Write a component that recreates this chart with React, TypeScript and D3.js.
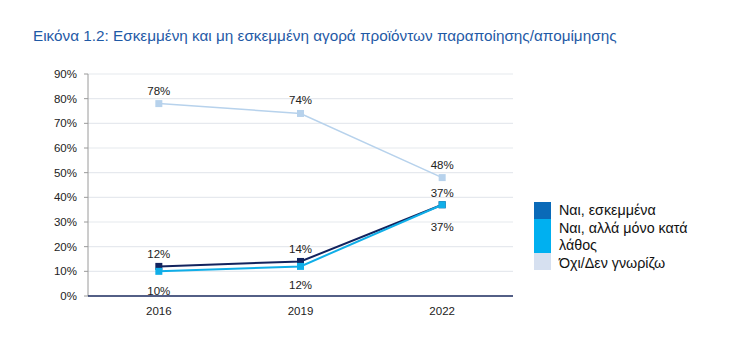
import React from "react";
import * as d3 from "d3";

const years = ["2016", "2019", "2022"];
const intentional = [12, 14, 37];
const accidental = [10, 12, 37];
const noDontKnow = [78, 74, 48];
const yTicks = [0, 10, 20, 30, 40, 50, 60, 70, 80, 90];
const seriesNames = ["Ναι, εσκεμμένα", "Ναι, αλλά μόνο κατά λάθος", "Όχι/Δεν γνωρίζω"];
const title = "Εικόνα 1.2: Εσκεμμένη και μη εσκεμμένη αγορά προϊόντων παραποίησης/απομίμησης";

export default function App() {
  const W = 743, H = 361;
  const left = 88, right = 513, top = 74, bottom = 296;
  const x = d3.scalePoint<string>().domain(years).range([left, right]).padding(0.5);
  const y = d3.scaleLinear().domain([0, 90]).range([bottom, top]);
  const line = d3.line<number>().x((_, i) => x(years[i])!).y(d => y(d));
  const font = "Arial, 'Liberation Sans', sans-serif";

  const series = [
    { data: intentional, color: "#12235e", labelDy: [-12, -12, -12], legend: "#0a6ab8" },
    { data: accidental, color: "#10aee8", labelDy: [20, 19, 22], legend: "#00b0f0" },
    { data: noDontKnow, color: "#b7d2ec", labelDy: [-13, -13, -13], legend: "#d6e0f0" },
  ];

  return (
    <div style={{ margin: -8 }}>
      <svg width={W} height={H} style={{ display: "block", background: "#fff" }} fontFamily={font}>
        <text x={33} y={41} fontSize={15.3} fill="#1f5aa6">{title}</text>
        {yTicks.map(t => (
          <g key={t}>
            {t > 0 && <line x1={left} x2={right} y1={y(t)} y2={y(t)} stroke="#e6e9ee" strokeWidth={1.2} />}
            <line x1={left - 4} x2={left} y1={y(t)} y2={y(t)} stroke="#9a9a9a" />
            <text x={77} y={y(t)} dy="0.35em" textAnchor="end" fontSize={11.5} fill="#222">{t}%</text>
          </g>
        ))}
        <line x1={left} x2={left} y1={top} y2={bottom} stroke="#9a9a9a" />
        <line x1={left} x2={right} y1={bottom} y2={bottom} stroke="#1a2a5e" strokeWidth={1.5} />
        {years.map(yr => (
          <text key={yr} x={x(yr)} y={315} textAnchor="middle" fontSize={11.5} fill="#222">{yr}</text>
        ))}
        {[2, 0, 1].map(si => {
          const s = series[si];
          return (
            <g key={si}>
              <path d={line(s.data)!} fill="none" stroke={s.color} strokeWidth={si === 2 ? 1.5 : 2} />
              {s.data.map((v, i) => (
                <rect key={i} x={x(years[i])! - 3.5} y={y(v) - 3.5} width={7} height={7} fill={s.color} />
              ))}
            </g>
          );
        })}
        {series.map((s, si) => s.data.map((v, i) => (
          <text key={`${si}-${i}`} x={x(years[i])} y={y(v) + s.labelDy[i]} dy="0.35em" textAnchor="middle" fontSize={11.5} fill="#222">{v}%</text>
        )))}
        <rect x={534} y={202} width={17} height={17} fill={series[0].legend} />
        <rect x={534} y={219} width={17} height={34} fill={series[1].legend} />
        <rect x={534} y={253} width={17} height={17} fill={series[2].legend} />
        <text x={559} y={210} dy="0.35em" fontSize={14.3} fill="#111">{seriesNames[0]}</text>
        <text x={559} y={228} dy="0.35em" fontSize={14.3} fill="#111">Ναι, αλλά μόνο κατά</text>
        <text x={559} y={244.5} dy="0.35em" fontSize={14.3} fill="#111">λάθος</text>
        <text x={559} y={263} dy="0.35em" fontSize={14.3} fill="#111">{seriesNames[2]}</text>
      </svg>
    </div>
  );
}
